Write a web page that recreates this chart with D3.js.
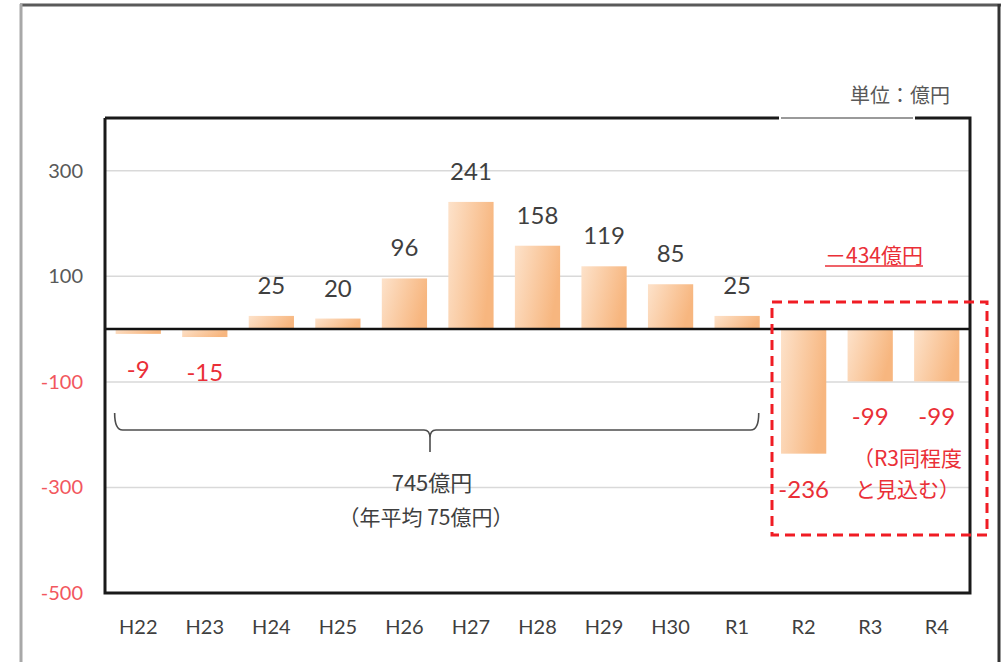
<!DOCTYPE html>
<html lang="ja">
<head>
<meta charset="utf-8">
<script src="https://cdn.jsdelivr.net/npm/d3@7"></script>
<style>
  html, body { margin: 0; padding: 0; background: #fff; }
  svg { display: block; }
</style>
</head>
<body>
<div id="chart"></div>
<script>
// values (億円)
const categories = ["H22", "H23", "H24", "H25", "H26", "H27", "H28", "H29", "H30", "R1", "R2", "R3", "R4"];
const values     = [-9, -15, 25, 20, 96, 241, 158, 119, 85, 25, -236, -99, -99];
const yTicks     = [300, 100, -100, -300, -500];
const gridTicks  = [300, 100, -100, -300];

const unitLabel   = "単位：億円";
const totalLabel  = "745億円";
const avgLabel    = "（年平均 75億円）";
const futureLabel = "－434億円";
const noteLines   = ["（R3同程度", "と見込む）"];

const W = 1005, H = 662;
const PLOT = { left: 105, right: 970, top: 118, bottom: 593 };

const RED      = "#ea2f37";
const RED_AXIS = "#f2575e";
const GRAY     = "#595959";
const DARK     = "#3f3f3f";
const NUM_FONT = "Lato, 'Open Sans', sans-serif";
const JP_FONT  = "'Noto Sans CJK JP', 'Noto Sans', sans-serif";

const svg = d3.select("#chart").append("svg")
  .attr("width", W)
  .attr("height", H);

const defs = svg.append("defs");
const grad = defs.append("linearGradient")
  .attr("id", "bar-grad")
  .attr("x1", "0").attr("y1", "0")
  .attr("x2", "1").attr("y2", "0.3");
grad.append("stop").attr("offset", "0%").attr("stop-color", "#fde2ca");
grad.append("stop").attr("offset", "100%").attr("stop-color", "#f7b67f");

// outer frame
svg.append("line")
  .attr("x1", 20).attr("x2", 1001).attr("y1", 5).attr("y2", 5)
  .attr("stroke", "#5a5a5a").attr("stroke-width", 3);
svg.append("line")
  .attr("x1", 21).attr("x2", 21).attr("y1", 4).attr("y2", H)
  .attr("stroke", "#a8a8a8").attr("stroke-width", 3);
svg.append("line")
  .attr("x1", 999).attr("x2", 999).attr("y1", 4).attr("y2", H)
  .attr("stroke", "#333").attr("stroke-width", 3);

const x = d3.scaleBand()
  .domain(categories)
  .range([PLOT.left, PLOT.right])
  .paddingInner(0.32)
  .paddingOuter(0.16);

const y = d3.scaleLinear()
  .domain([-500, 400])
  .range([PLOT.bottom, PLOT.top]);

// gridlines
svg.append("g")
  .selectAll("line")
  .data(gridTicks)
  .join("line")
  .attr("x1", PLOT.left).attr("x2", PLOT.right)
  .attr("y1", d => y(d)).attr("y2", d => y(d))
  .attr("stroke", "#d9d9d9")
  .attr("stroke-width", 1.5);

// bars
svg.append("g")
  .selectAll("rect")
  .data(values)
  .join("rect")
  .attr("x", (d, i) => x(categories[i]))
  .attr("width", x.bandwidth())
  .attr("y", d => y(Math.max(0, d)))
  .attr("height", d => Math.abs(y(d) - y(0)))
  .attr("fill", "url(#bar-grad)");

// zero line
svg.append("line")
  .attr("x1", PLOT.left).attr("x2", PLOT.right)
  .attr("y1", y(0)).attr("y2", y(0))
  .attr("stroke", "#111").attr("stroke-width", 2.5);

// plot border (top edge has a grey gap under the unit label)
const border = svg.append("g")
  .attr("fill", "none")
  .attr("stroke", "#1a1a1a")
  .attr("stroke-width", 3);
border.append("path")
  .attr("d", `M${PLOT.left},${PLOT.top} V${PLOT.bottom} H${PLOT.right} V${PLOT.top} H915`);
border.append("line")
  .attr("x1", PLOT.left).attr("x2", 779)
  .attr("y1", PLOT.top).attr("y2", PLOT.top);
svg.append("line")
  .attr("x1", 781).attr("x2", 913)
  .attr("y1", PLOT.top).attr("y2", PLOT.top)
  .attr("stroke", "#9a9a9a").attr("stroke-width", 2);

// y axis (plain hyphen for negatives, as in the source)
const yAxis = svg.append("g")
  .attr("transform", `translate(${PLOT.left},0)`)
  .call(d3.axisLeft(y).tickValues(yTicks).tickSize(0).tickPadding(22).tickFormat(d => String(d)));
yAxis.select(".domain").remove();
yAxis.selectAll("text")
  .style("font-family", NUM_FONT)
  .style("font-size", "20px")
  .attr("fill", d => d < 0 ? RED_AXIS : GRAY);

// x axis
const xAxis = svg.append("g")
  .attr("transform", `translate(0,${PLOT.bottom})`)
  .call(d3.axisBottom(x).tickSize(0).tickPadding(27));
xAxis.select(".domain").remove();
xAxis.selectAll("text")
  .style("font-family", NUM_FONT)
  .style("font-size", "20px")
  .attr("fill", DARK);

// value labels
svg.append("g")
  .selectAll("text")
  .data(values)
  .join("text")
  .attr("x", (d, i) => x(categories[i]) + x.bandwidth() / 2)
  .attr("y", d => d >= 0 ? y(d) - 22 : y(d) + 44)
  .attr("text-anchor", "middle")
  .style("font-family", NUM_FONT)
  .style("font-size", "24px")
  .attr("fill", d => d >= 0 ? DARK : RED)
  .text(d => d);

// unit label
svg.append("text")
  .attr("x", 950).attr("y", 103)
  .attr("text-anchor", "end")
  .style("font-family", JP_FONT)
  .style("font-size", "20px")
  .attr("fill", GRAY)
  .text(unitLabel);

// brace under H22..R1
const bx0 = x(categories[0]) - 1;
const bx1 = x(categories[9]) + x.bandwidth() - 1;
const bmid = 430;
const by = 430;
svg.append("path")
  .attr("d", `M${bx0},${by - 17} Q${bx0},${by} ${bx0 + 8},${by}
              H${bmid - 6} Q${bmid},${by} ${bmid},${by + 8} V${by + 22}
              M${bmid},${by + 8} Q${bmid},${by} ${bmid + 6},${by}
              H${bx1 - 8} Q${bx1},${by} ${bx1},${by - 17}`)
  .attr("fill", "none")
  .attr("stroke", "#4d4d4d")
  .attr("stroke-width", 1.6);

svg.append("text")
  .attr("x", bmid + 2).attr("y", 491)
  .attr("text-anchor", "middle")
  .style("font-family", JP_FONT)
  .style("font-size", "22px")
  .attr("fill", DARK)
  .text(totalLabel);
svg.append("text")
  .attr("x", bmid - 4).attr("y", 525)
  .attr("text-anchor", "middle")
  .style("font-family", JP_FONT)
  .style("font-size", "21px")
  .attr("fill", DARK)
  .text(avgLabel);

// future deficit label, underlined
const fut = svg.append("text")
  .attr("x", 874).attr("y", 263)
  .attr("text-anchor", "middle")
  .style("font-family", JP_FONT)
  .style("font-size", "21px")
  .attr("fill", RED)
  .text(futureLabel);
const fb = fut.node().getBBox();
svg.append("line")
  .attr("x1", fb.x).attr("x2", fb.x + fb.width)
  .attr("y1", 266).attr("y2", 266)
  .attr("stroke", RED).attr("stroke-width", 1.5);

// note under R3/R4
const noteX = (x("R3") + x("R4") + x.bandwidth()) / 2 + 4;
svg.append("g")
  .selectAll("text")
  .data(noteLines)
  .join("text")
  .attr("x", noteX)
  .attr("y", (d, i) => 466 + i * 31)
  .attr("text-anchor", "middle")
  .style("font-family", JP_FONT)
  .style("font-size", "21px")
  .attr("fill", RED)
  .text(d => d);

// dashed box around R2..R4
svg.append("rect")
  .attr("x", 772).attr("y", 302)
  .attr("width", 215).attr("height", 233)
  .attr("fill", "none")
  .attr("stroke", "#f01c24")
  .attr("stroke-width", 3)
  .attr("stroke-dasharray", "10 6");
</script>
</body>
</html>
